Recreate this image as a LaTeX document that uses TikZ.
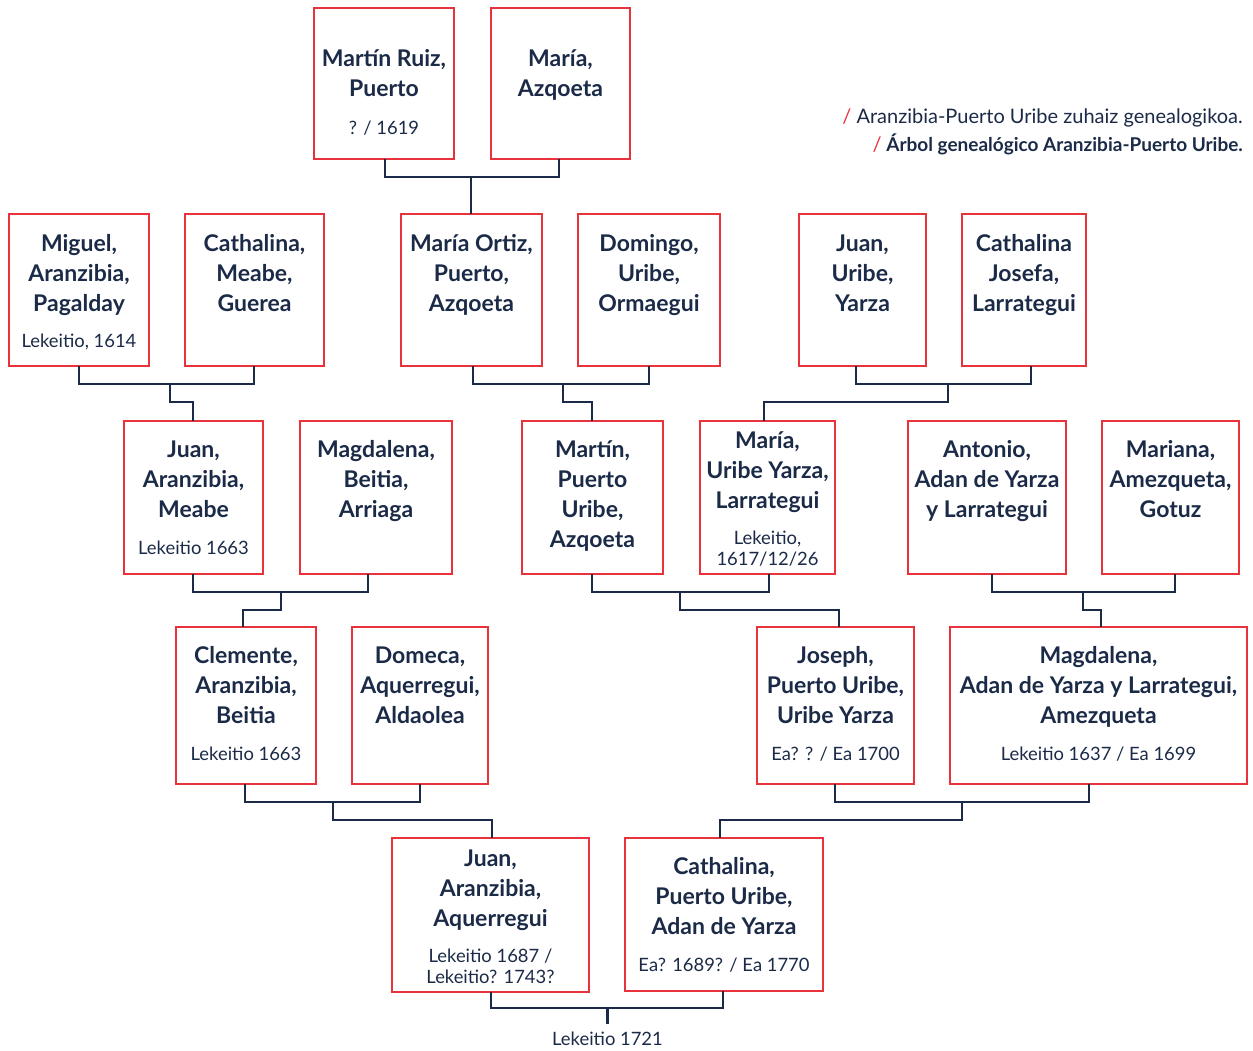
\documentclass[tikz,border=0pt]{standalone}
\usepackage{fontspec}
\setmainfont{Lato}
\usetikzlibrary{calc}
\definecolor{navy}{HTML}{1B2A47}
\definecolor{boxred}{HTML}{E8323C}
\tikzset{
  pbox/.style={draw=boxred, line width=2.8pt, inner sep=0pt, outer sep=0pt},
  conn/.style={draw=navy, line width=2.8pt},
  nm/.style={anchor=north, inner sep=0pt, align=center, text=navy, font=\bfseries\fontsize{23}{30}\selectfont},
  dt/.style={anchor=north, inner sep=0pt, align=center, text=navy, font=\fontsize{18.4}{21}\selectfont},
  ttl/.style={anchor=base east, inner sep=0pt, text=navy, font=\fontsize{20}{24}\selectfont},
}
\newcommand\pbox[5]{\node[pbox, minimum width={(#4-#2)*1pt}, minimum height={(#5-#3)*1pt}] (#1) at ({(#2+#4)/2},{-(#3+#5)/2}) {};}
\newcommand\nmtext[4]{\node[nm] (#1) at (#2,{22-#3}) {\rule{0pt}{22pt}#4};}
\newcommand\dttext[4]{\node[dt] (#1) at (#2,{16-#3}) {\rule{0pt}{16pt}#4};}
\begin{document}
\begin{tikzpicture}[x=1pt,y=1pt]
\useasboundingbox (0,0) rectangle (1253,-1050);
% boxes
\pbox{a1}{314}{8}{454}{159}
\pbox{a2}{491}{8}{630}{159}
\pbox{b1}{9}{214}{149}{366}
\pbox{b2}{185}{214}{324}{366}
\pbox{b3}{401}{214}{542}{366}
\pbox{b4}{578}{214}{720}{366}
\pbox{b5}{799}{214}{926}{366}
\pbox{b6}{962}{214}{1086}{366}
\pbox{c1}{124}{421}{263}{574}
\pbox{c2}{300}{421}{452}{574}
\pbox{c3}{522}{421}{663}{574}
\pbox{c4}{700}{421}{835}{574}
\pbox{c5}{908}{421}{1066}{574}
\pbox{c6}{1102}{421}{1239}{574}
\pbox{d1}{176}{627}{316}{784}
\pbox{d2}{352}{627}{488}{784}
\pbox{d3}{757}{627}{914}{784}
\pbox{d4}{950}{627}{1247}{784}
\pbox{e1}{392}{838}{589}{992}
\pbox{e2}{625}{838}{823}{991}
% texts
\nmtext{a1t}{384}{66}{Martín Ruiz,\\Puerto}
\dttext{a1d}{384}{134}{? / 1619}
\nmtext{a2t}{560.5}{66}{María,\\Azqoeta}
\nmtext{b1t}{79}{251}{Miguel,\\Aranzibia,\\Pagalday}
\dttext{b1d}{79}{347}{Lekeitio, 1614}
\nmtext{b2t}{254.5}{251}{Cathalina,\\Meabe,\\Guerea}
\nmtext{b3t}{471.5}{251}{María Ortiz,\\Puerto,\\Azqoeta}
\nmtext{b4t}{649}{251}{Domingo,\\Uribe,\\Ormaegui}
\nmtext{b5t}{862.5}{251}{Juan,\\Uribe,\\Yarza}
\nmtext{b6t}{1024}{251}{Cathalina\\Josefa,\\Larrategui}
\nmtext{c1t}{193.5}{457}{Juan,\\Aranzibia,\\Meabe}
\dttext{c1d}{193.5}{554}{Lekeitio 1663}
\nmtext{c2t}{376}{457}{Magdalena,\\Beitia,\\Arriaga}
\nmtext{c3t}{592.5}{457}{Martín,\\Puerto\\Uribe,\\Azqoeta}
\nmtext{c4t}{767.5}{448}{María,\\Uribe Yarza,\\Larrategui}
\dttext{c4d}{767.5}{544}{Lekeitio,\\1617/12/26}
\nmtext{c5t}{987}{457}{Antonio,\\Adan de Yarza\\y Larrategui}
\nmtext{c6t}{1170.5}{457}{Mariana,\\Amezqueta,\\Gotuz}
\nmtext{d1t}{246}{663}{Clemente,\\Aranzibia,\\Beitia}
\dttext{d1d}{246}{760}{Lekeitio 1663}
\nmtext{d2t}{420}{663}{Domeca,\\Aquerregui,\\Aldaolea}
\nmtext{d3t}{835.5}{663}{Joseph,\\Puerto Uribe,\\Uribe Yarza}
\dttext{d3d}{835.5}{760}{Ea? ? / Ea 1700}
\nmtext{d4t}{1098.5}{663}{Magdalena,\\Adan de Yarza y Larrategui,\\Amezqueta}
\dttext{d4d}{1098.5}{760}{Lekeitio 1637 / Ea 1699}
\nmtext{e1t}{490.5}{866}{Juan,\\Aranzibia,\\Aquerregui}
\dttext{e1d}{490.5}{962}{Lekeitio 1687 /\\Lekeitio? 1743?}
\nmtext{e2t}{724}{874}{Cathalina,\\Puerto Uribe,\\Adan de Yarza}
\dttext{e2d}{724}{971}{Ea? 1689? / Ea 1770}
% title
\node[ttl] (title1) at (1243,-123) {{\color{boxred}/} Aranzibia-Puerto Uribe zuhaiz genealogikoa.};
\node[ttl, font=\bfseries\fontsize{19}{24}\selectfont] (title2) at (1243,-151) {{\color{boxred}\mdseries\fontsize{20}{24}\selectfont/} Árbol genealógico Aranzibia-Puerto Uribe.};
% connectors
\coordinate (j0) at (471,-177);
\draw[conn] ([xshift=1pt]a1.south) |- (j0) -| ([xshift=-1.5pt]a2.south);
\draw[conn] (j0) -- ([xshift=-0.5pt]b3.north);
\coordinate (j1) at (170,-384);
\draw[conn] (b1.south) |- (j1) -| ([xshift=-0.5pt]b2.south);
\draw[conn] (j1) -- ++(0,-18) -| ([xshift=-0.5pt]c1.north);
\coordinate (j2) at (563,-384);
\draw[conn] ([xshift=1.5pt]b3.south) |- (j2) -| (b4.south);
\draw[conn] (j2) -- ++(0,-18) -| ([xshift=-0.5pt]c3.north);
\coordinate (j3) at (948,-384);
\draw[conn] ([xshift=-6.5pt]b5.south) |- (j3) -| ([xshift=7pt]b6.south);
\draw[conn] (j3) -- ++(0,-18) -| ([xshift=-3.5pt]c4.north);
\coordinate (j4) at (281,-592);
\draw[conn] ([xshift=-0.5pt]c1.south) |- (j4) -| ([xshift=-8pt]c2.south);
\draw[conn] (j4) -- ++(0,-18) -| ([xshift=-3pt]d1.north);
\coordinate (j5) at (680,-592);
\draw[conn] ([xshift=-0.5pt]c3.south) |- (j5) -| ([xshift=1.5pt]c4.south);
\draw[conn] (j5) -- ++(0,-18) -| ([xshift=3.5pt]d3.north);
\coordinate (j6) at (1083,-592);
\draw[conn] ([xshift=5pt]c5.south) |- (j6) -| ([xshift=4.5pt]c6.south);
\draw[conn] (j6) -- ++(0,-18) -| ([xshift=2.5pt]d4.north);
\coordinate (j7) at (333,-802);
\draw[conn] ([xshift=-1pt]d1.south) |- (j7) -| (d2.south);
\draw[conn] (j7) -- ++(0,-18) -| ([xshift=1.5pt]e1.north);
\coordinate (j8) at (962,-802);
\draw[conn] ([xshift=-0.5pt]d3.south) |- (j8) -| ([xshift=-9.5pt]d4.south);
\draw[conn] (j8) -- ++(0,-18) -| ([xshift=-4pt]e2.north);
\coordinate (j9) at (607.5,-1008);
\draw[conn] ([xshift=0.5pt]e1.south) |- (j9) -| ([xshift=-1pt]e2.south);
\draw[conn] (j9) -- ++(0,-16) coordinate (j9b);
\node[dt, anchor=base] (marr) at (607.5,-1045) {Lekeitio 1721};
\end{tikzpicture}
\end{document}
